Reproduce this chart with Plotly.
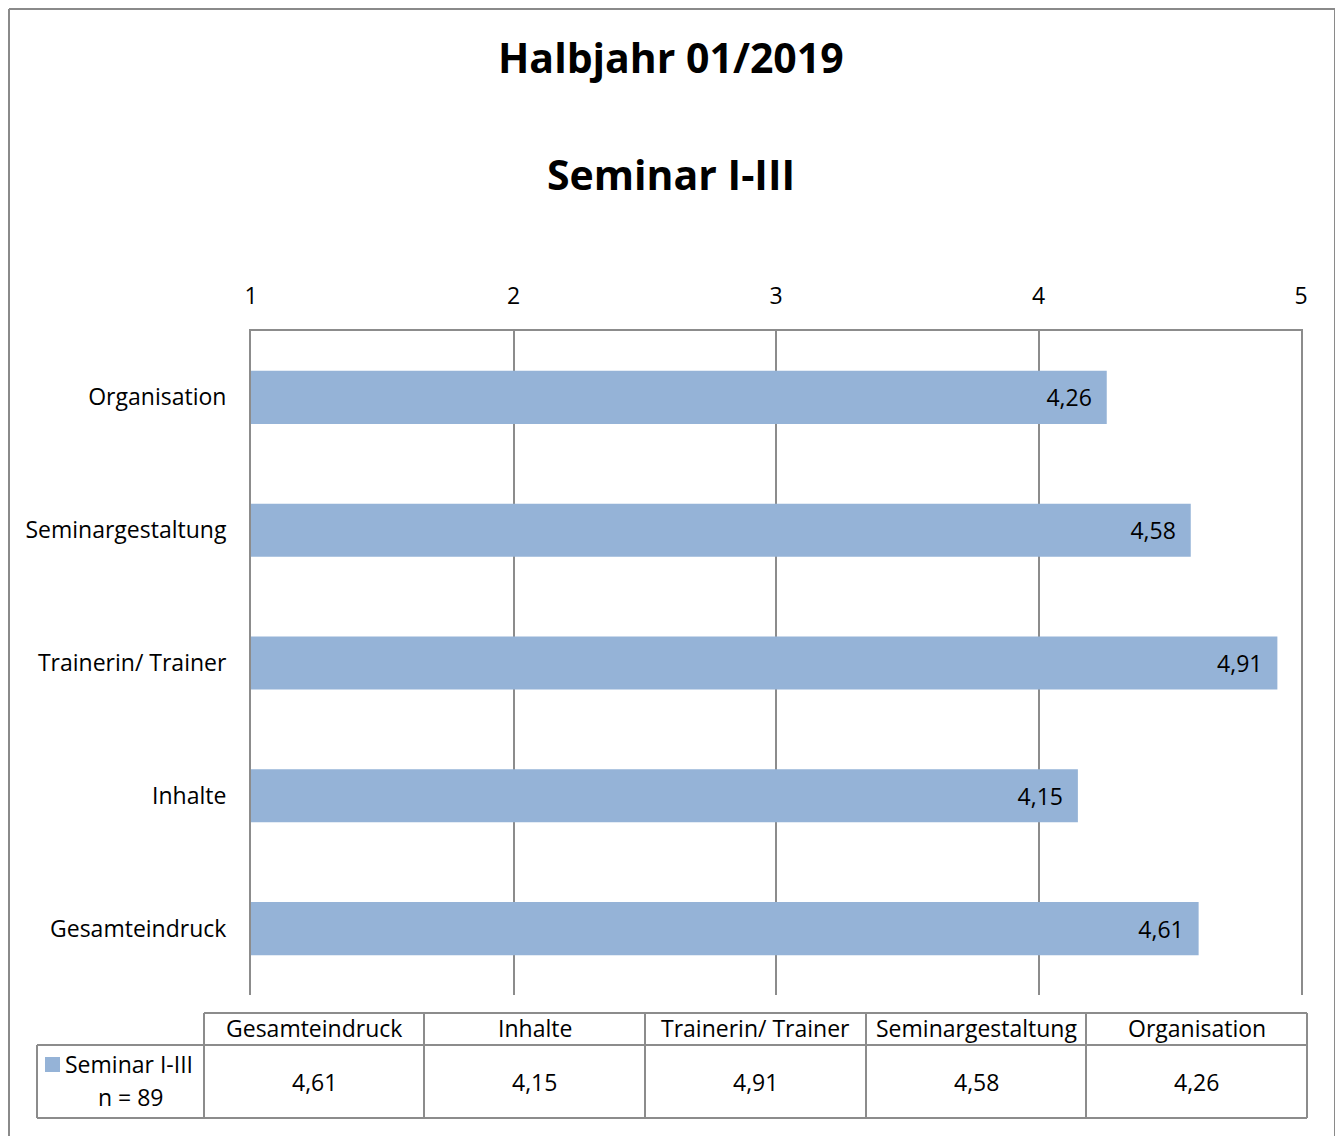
import plotly.graph_objects as go

categories = ["Gesamteindruck", "Inhalte", "Trainerin/ Trainer", "Seminargestaltung", "Organisation"]
values = [4.61, 4.15, 4.91, 4.58, 4.26]
tick_vals = [1, 2, 3, 4, 5]
title_line1 = "Halbjahr 01/2019"
title_line2 = "Seminar I-III"
series_name = "Seminar I-III"
n_label = "n = 89"

BAR_COLOR = "#95B3D7"
GRID = "#8C8C8C"
FONT = "Open Sans"
FS = 23

OFF = 8  # page body margin
W, H = 1343 - OFF, 1144 - 2 * OFF
L, R, T, B = 251, 1301, 331, 995  # plot area pixel box (page coords)


def px(x):
    return (x - L) / (R - L)


def py(y):
    return (B - y) / (B - T)


def fmt(v):
    return f"{v:.2f}".replace(".", ",")


fig = go.Figure()
fig.add_trace(go.Bar(
    x=values, y=categories, orientation="h", base=0,
    marker=dict(color=BAR_COLOR, line=dict(width=0)),
    width=0.4,
    text=[fmt(v) + "\u00a0\u00a0" for v in values],
    textposition="inside", insidetextanchor="end",
    textfont=dict(family=FONT, size=FS, color="black"),
    cliponaxis=False,
))

shapes = []
# outer chart border (left, top, right)
bline = dict(color="#8A8A8A", width=2)
bx0, bx1, by0, by1 = 9, 1335, 9, 1160
for (xa, ya, xb, yb) in [(bx0, by0, bx0, by1), (bx0, by0, bx1, by0), (bx1, by0, bx1, by1)]:
    shapes.append(dict(type="line", xref="paper", yref="paper",
                       x0=px(xa), x1=px(xb), y0=py(ya), y1=py(yb), line=bline))

# table geometry
col_edges = [204, 424, 645, 866, 1086, 1307]
row_top, row_mid, row_bot = 1013, 1045, 1118
leg_left = 37
tline = dict(color="#8C8C8C", width=2)

def hline(x0, x1, y):
    shapes.append(dict(type="line", xref="paper", yref="paper",
                       x0=px(x0), x1=px(x1), y0=py(y), y1=py(y), line=tline))

def vline(x, y0, y1):
    shapes.append(dict(type="line", xref="paper", yref="paper",
                       x0=px(x), x1=px(x), y0=py(y0), y1=py(y1), line=tline))

hline(col_edges[0], col_edges[-1], row_top)
hline(leg_left, col_edges[-1], row_mid)
hline(leg_left, col_edges[-1], row_bot)
for x in col_edges:
    vline(x, row_top, row_bot)
vline(leg_left, row_mid, row_bot)

# legend key square
shapes.append(dict(type="rect", xref="paper", yref="paper",
                   x0=px(45), x1=px(60), y0=py(1057), y1=py(1072),
                   fillcolor=BAR_COLOR, line=dict(width=0)))

annotations = []
annotations.append(dict(text=f"<b>{title_line1}</b>", xref="paper", yref="paper",
                        x=px(671), y=py(57), showarrow=False,
                        font=dict(family=FONT, size=41, color="black"),
                        xanchor="center", yanchor="middle"))
annotations.append(dict(text=f"<b>{title_line2}</b>", xref="paper", yref="paper",
                        x=px(671), y=py(174), showarrow=False,
                        font=dict(family=FONT, size=41, color="black"),
                        xanchor="center", yanchor="middle"))

for i, (c, v) in enumerate(zip(categories, values)):
    xc = (col_edges[i] + col_edges[i + 1]) / 2
    annotations.append(dict(text=c, xref="paper", yref="paper", x=px(xc), y=py(1028),
                            showarrow=False, xanchor="center", yanchor="middle",
                            font=dict(family=FONT, size=FS, color="black")))
    annotations.append(dict(text=fmt(v), xref="paper", yref="paper", x=px(xc), y=py(1082),
                            showarrow=False, xanchor="center", yanchor="middle",
                            font=dict(family=FONT, size=FS, color="black")))

annotations.append(dict(text=series_name, xref="paper", yref="paper", x=px(63), y=py(1064),
                        showarrow=False, xanchor="left", yanchor="middle",
                        font=dict(family=FONT, size=FS, color="black")))
annotations.append(dict(text=n_label, xref="paper", yref="paper", x=px(131), y=py(1097),
                        showarrow=False, xanchor="center", yanchor="middle",
                        font=dict(family=FONT, size=FS, color="black")))

fig.update_layout(
    width=W, height=H,
    margin=dict(l=L - OFF, r=W - (R - OFF), t=T - OFF, b=H - (B - OFF), pad=0),
    paper_bgcolor="white", plot_bgcolor="white",
    showlegend=False,
    shapes=shapes, annotations=annotations,
    font=dict(family=FONT, size=FS, color="black"),
    xaxis=dict(range=[1, 5], side="top", tickvals=tick_vals,
               showgrid=True, gridcolor=GRID, gridwidth=2,
               showline=True, linecolor=GRID, linewidth=2, mirror=False,
               zeroline=False, ticks="", ticklabelstandoff=16,
               tickfont=dict(family=FONT, size=FS, color="black")),
    yaxis=dict(categoryorder="array", categoryarray=categories,
               range=[-0.5, 4.5], showgrid=False, zeroline=False,
               showline=True, linecolor=GRID, linewidth=2, mirror=True,
               ticks="", ticklabelstandoff=18,
               tickfont=dict(family=FONT, size=FS, color="black")),
)

fig.write_html("out.html")
